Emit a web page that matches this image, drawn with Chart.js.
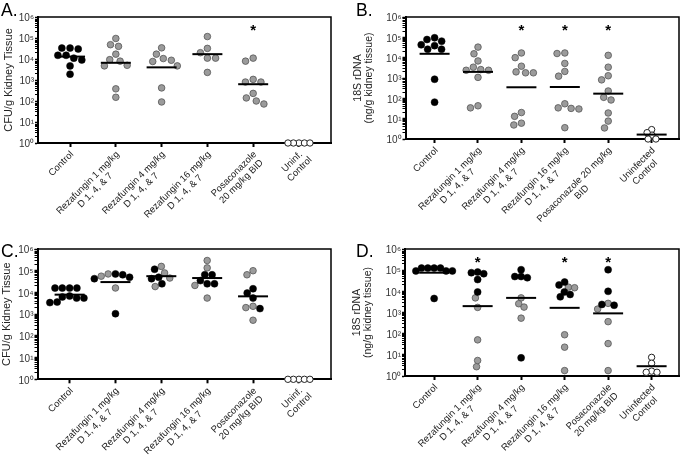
<!DOCTYPE html>
<html>
<head>
<meta charset="utf-8">
<script src="https://cdn.jsdelivr.net/npm/chart.js@4.4.1/dist/chart.umd.min.js"></script>
<style>
  body { margin: 0; background: #fff; width: 696px; height: 464px; position: relative; overflow: hidden; }
  canvas { position: absolute; }
</style>
</head>
<body>
<canvas id="cA" width="348" height="232" style="left:0;top:0"></canvas>
<canvas id="cB" width="348" height="232" style="left:348px;top:0"></canvas>
<canvas id="cC" width="348" height="232" style="left:0;top:232px"></canvas>
<canvas id="cD" width="348" height="232" style="left:348px;top:232px"></canvas>
<script>
// ===== categories =====
const groupsAC = ['Control', ['Rezafungin 1 mg/kg', 'D 1, 4, & 7'], ['Rezafungin 4 mg/kg', 'D 1, 4, & 7'],
  ['Rezafungin 16 mg/kg', 'D 1, 4, & 7'], ['Posaconazole', '20 mg/kg BID'], ['Uninf.', 'Control']];
const groupsB = ['Control', ['Rezafungin 1 mg/kg', 'D 1, 4, & 7'], ['Rezafungin 4 mg/kg', 'D 1, 4, & 7'],
  ['Rezafungin 16 mg/kg', 'D 1, 4, & 7'], ['Posaconazole 20 mg/kg', 'BID'], ['Uninfected', 'Control']];
const groupsD = ['Control', ['Rezafungin 1 mg/kg', 'D 1, 4, & 7'], ['Rezafungin 4 mg/kg', 'D 1, 4, & 7'],
  ['Rezafungin 16 mg/kg', 'D 1, 4, & 7'], ['Posaconazole', '20 mg/kg BID'], ['Uninfected', 'Control']];

// ===== A: CFU/g kidney =====
const aBlack = [[33000, 30000, 33000, 15000, 15000, 11000, 9000, 4700, 1900], [], [], [], [], []];
const aGray = [[], [48000, 95000, 40000, 17000, 9300, 7900, 5000, 4700, 380, 150],
  [34000, 17000, 8700, 10500, 7600, 4700, 420, 90], [117000, 32000, 20000, 11000, 11000, 2300],
  [7900, 11000, 800, 800, 1070, 230, 140, 100, 72], []];
const aOpen = [[], [], [], [], [], [1, 1, 1, 1, 1]];
const aMean = [13000, 6600, 4000, 17000, 630, null];
const sigA = [4];

// ===== B: 18S rDNA =====
const bBlack = [[95000, 65000, 78000, 39000, 43000, 26000, 26000, 870, 65], [], [], [], [], []];
const bGray = [[], [33000, 15500, 6900, 3400, 2600, 2400, 2400, 1070, 34, 43],
  [17000, 10000, 3800, 2000, 1800, 1800, 13, 20, 4.9, 6], [17000, 16000, 5200, 2100, 1230, 54, 32, 30, 34, 3.6],
  [13000, 3400, 1290, 810, 230, 83, 112, 19, 7.6, 3.5], []];
const bOpen = [[], [], [], [], [], [2.9, 1.55, 1, 1, 2.05]];
const bMean = [15500, 2000, 350, 360, 170, 1.65];
const sigB = [2, 3, 4];

// ===== C: CFU/g kidney =====
const cBlack = [[15800, 15800, 15800, 15800, 6200, 5500, 5500, 6800, 3400, 3600], [71000, 43000, 65000, 50000, 1050],
  [117000, 43000, 25000, 50000], [65000, 35000, 65000, 25000, 25000], [5500, 9300, 14800, 1800], []];
const cGray = [[], [56000, 71000, 16000], [79000, 158000, 46000, 18600], [295000, 135000, 5500, 21000],
  [100000, 65000, 2000, 2300, 525], []];
const cOpen = [[], [], [], [], [], [1, 1, 1, 1, 1]];
const cMean = [7900, 30000, 56000, 46000, 6600, null];
const sigC = [];

// ===== D: 18S rDNA =====
const dBlack = [[125000, 125000, 125000, 125000, 92000, 92000, 92000, 4600], [76000, 81000, 68000, 36000, 9300],
  [105000, 50000, 44000, 50000, 7.2], [20000, 27500, 7100, 5500, 9300], [105000, 10000, 2200, 2400], []];
const dGray = [[], [4900, 1740, 51, 2.75, 5.4], [4900, 2600, 1800, 540], [15800, 14800, 89, 23, 1.8],
  [2700, 1450, 370, 34, 1.8], []];
const dOpen = [[], [], [], [], [], [7.6, 4, 1.7, 1.5, 1.5]];
const dMean = [76000, 2000, 4900, 1660, 910, 2.9];
const sigD = [1, 3, 4];

const starLevel = 3e5;
const SUP = ['⁰', '¹', '²', '³', '⁴', '⁵', '⁶'];
const FONT = '"Liberation Sans", Arial, Helvetica, sans-serif';

// x labels, rotated 45deg, 2nd line centred under the 1st
const xLabelPlugin = {
  id: 'xLabels',
  afterDraw(chart, args, o) {
    const ctx = chart.ctx, xs = chart.scales.x, bottom = chart.chartArea.bottom;
    ctx.save();
    ctx.font = '9.5px ' + FONT;
    ctx.fillStyle = '#222';
    ctx.textBaseline = 'middle';
    o.labels.forEach((lab, i) => {
      const lines = Array.isArray(lab) ? lab : [lab];
      const w0 = ctx.measureText(lines[0]).width;
      ctx.save();
      ctx.translate(xs.getPixelForValue(i) + 2, bottom + 10);
      ctx.rotate(-Math.PI / 4);
      lines.forEach((t, k) => {
        if (k === 0) { ctx.textAlign = 'right'; ctx.fillText(t, 0, 0); }
        else { ctx.textAlign = 'center'; ctx.fillText(t, -w0 / 2, k * 10.5); }
      });
      ctx.restore();
    });
    ctx.restore();
  }
};

const framePlugin = {
  id: 'frame',
  beforeDatasetsDraw(chart) {
    const { ctx, chartArea: a } = chart;
    ctx.save();
    ctx.strokeStyle = '#000';
    ctx.lineWidth = 1.5;
    ctx.beginPath();
    ctx.moveTo(a.left, a.top);
    ctx.lineTo(a.right, a.top);
    ctx.lineTo(a.right, a.bottom);
    ctx.stroke();
    ctx.restore();
  }
};

const starPlugin = {
  id: 'stars',
  afterDatasetsDraw(chart, args, o) {
    const ctx = chart.ctx;
    ctx.save();
    ctx.font = 'bold 15px ' + FONT;
    ctx.fillStyle = '#000';
    ctx.textAlign = 'center';
    ctx.textBaseline = 'alphabetic';
    const m = ctx.measureText('*');
    const shift = (m.actualBoundingBoxDescent - m.actualBoundingBoxAscent) / 2;
    o.sig.forEach(i => {
      const x = chart.scales.x.getPixelForValue(i);
      const y = chart.scales.y.getPixelForValue(starLevel);
      ctx.fillText('*', x, y - shift);
    });
    // panel letter
    ctx.font = '17.5px ' + FONT;
    ctx.textAlign = 'left';
    ctx.fillText(o.tag, o.tagX, o.tagY);
    ctx.restore();
  }
};

function pts(arr) {
  return arr.flatMap((vals, g) => vals.map(v => ({ x: g, y: v, g: g })));
}

// simple beeswarm: spread points of a group so they don't collide
function swarm(chart, dist) {
  const xs = chart.scales.x, ys = chart.scales.y;
  const unit = xs.getPixelForValue(1) - xs.getPixelForValue(0);
  const groups = {};
  chart.data.datasets.forEach(ds => {
    if (!ds.swarm) return;
    ds.data.forEach(p => { (groups[p.g] = groups[p.g] || []).push(p); });
  });
  Object.values(groups).forEach(list => {
    const d = list[0].g === 5 ? 5.5 : dist;
    list.forEach(p => { p.py = ys.getPixelForValue(p.y); });
    const order = list.slice().sort((a, b) => a.py - b.py);
    const placed = [];
    order.forEach(p => {
      const cands = [0];
      placed.forEach(q => {
        const dy = p.py - q.py;
        if (Math.abs(dy) < d) {
          const dx = Math.sqrt(d * d - dy * dy);
          cands.push(q.ox + dx, q.ox - dx);
        }
      });
      cands.sort((a, b) => Math.abs(a) - Math.abs(b) || a - b);
      const ok = cands.find(c => placed.every(q => (c - q.ox) ** 2 + (p.py - q.py) ** 2 >= d * d - 0.01));
      p.ox = ok;
      placed.push(p);
    });
    list.forEach(p => { p.x = p.g + p.ox / unit; });
  });
  chart.update('none');
}

function makeChart(c) {
  const datasets = [
    {
      label: 'mean', data: c.mean.map((v, g) => v == null ? null : { x: g, y: v }).filter(Boolean),
      pointStyle: 'line', pointRadius: 15, pointBorderWidth: 2, pointBorderColor: '#000', clip: false
    },
    {
      label: 'black', data: pts(c.black), swarm: true, pointRadius: 3.5,
      pointBackgroundColor: '#000', pointBorderColor: '#000', pointBorderWidth: 0.5, clip: false
    },
    {
      label: 'gray', data: pts(c.gray), swarm: true, pointRadius: 3.3,
      pointBackgroundColor: '#9b9b9b', pointBorderColor: '#555', pointBorderWidth: 0.8, clip: false
    },
    {
      label: 'open', data: pts(c.open), swarm: true, pointRadius: 3.2,
      pointBackgroundColor: '#fff', pointBorderColor: '#222', pointBorderWidth: 1, clip: false
    }
  ];
  const chart = new Chart(document.getElementById(c.id), {
    type: 'scatter',
    data: { datasets: datasets },
    plugins: [framePlugin, xLabelPlugin, starPlugin],
    options: {
      responsive: false, animation: false, events: [],
      layout: { padding: { left: 0, top: c.top, right: c.right, bottom: 0 } },
      plugins: {
        legend: { display: false }, tooltip: { enabled: false },
        xLabels: { labels: c.labels },
        stars: { sig: c.sig, tag: c.tag, tagX: c.tagX, tagY: c.tagY }
      },
      scales: {
        x: {
          type: 'linear', min: c.xMin, max: c.xMax,
          afterBuildTicks: s => { s.ticks = c.labels.map((l, i) => ({ value: i })); },
          afterFit: s => { s.height = c.xH; },
          ticks: { display: false },
          grid: { drawOnChartArea: false, drawTicks: true, tickLength: 4, tickWidth: 2, tickColor: '#000' },
          border: { display: true, color: '#000', width: 2 }
        },
        y: {
          type: 'logarithmic', min: 1, max: 1e6,
          afterBuildTicks: s => {
            const t = [];
            for (let e = 0; e < 6; e++) for (let m = 1; m < 10; m++) t.push({ value: m * Math.pow(10, e), major: m === 1 });
            t.push({ value: 1e6, major: true });
            s.ticks = t;
          },
          afterFit: s => { s.width = c.yW; },
          ticks: {
            autoSkip: false, padding: 1, labelOffset: 1.5, color: '#333',
            font: { family: FONT, size: 10 },
            callback: v => {
              const e = Math.round(Math.log10(v));
              return Math.abs(Math.log10(v) - e) < 1e-9 ? '10' + SUP[e] : '';
            }
          },
          grid: { drawOnChartArea: false, drawTicks: true, tickLength: 3, tickColor: '#000', tickWidth: ctx => (ctx.tick && ctx.tick.major ? 1.5 : 1) },
          border: { display: true, color: '#000', width: 2 },
          title: {
            display: true, text: c.yTitle, color: '#222',
            font: { family: FONT, size: c.titleSize, lineHeight: 1.0 },
            padding: { top: c.titlePad, bottom: 0 }
          }
        }
      }
    }
  });
  swarm(chart, c.dist);
  return chart;
}

makeChart({ id: 'cA', tag: 'A.', tagX: 1, tagY: 15.5, labels: groupsAC, yTitle: 'CFU/g Kidney Tissue', titleSize: 11, titlePad: 3.5,
  black: aBlack, gray: aGray, open: aOpen, mean: aMean, sig: sigA,
  yW: 38, xH: 89, top: 10.7, right: 9, xMin: -0.7, xMax: 5.7, dist: 8.2 });
makeChart({ id: 'cB', tag: 'B.', tagX: 8, tagY: 15.5, labels: groupsB, yTitle: ['18S rDNA', '(ng/g kidney tissue)'], titleSize: 10.5, titlePad: 5,
  black: bBlack, gray: bGray, open: bOpen, mean: bMean, sig: sigB,
  yW: 57.5, xH: 93, top: 10.7, right: 4, xMin: -0.67, xMax: 5.63, dist: 7.8 });
makeChart({ id: 'cC', tag: 'C.', tagX: 1, tagY: 25, labels: groupsAC, yTitle: 'CFU/g Kidney Tissue', titleSize: 11, titlePad: 1.5,
  black: cBlack, gray: cGray, open: cOpen, mean: cMean, sig: sigC,
  yW: 37.5, xH: 84.7, top: 16.3, right: 9, xMin: -0.7, xMax: 5.7, dist: 7.3 });
makeChart({ id: 'cD', tag: 'D.', tagX: 8, tagY: 25, labels: groupsD, yTitle: ['18S rDNA', '(ng/g kidney tissue)'], titleSize: 10.5, titlePad: 4,
  black: dBlack, gray: dGray, open: dOpen, mean: dMean, sig: sigD,
  yW: 57, xH: 88, top: 16.3, right: 4, xMin: -0.67, xMax: 5.63, dist: 6.3 });
</script>
</body>
</html>
